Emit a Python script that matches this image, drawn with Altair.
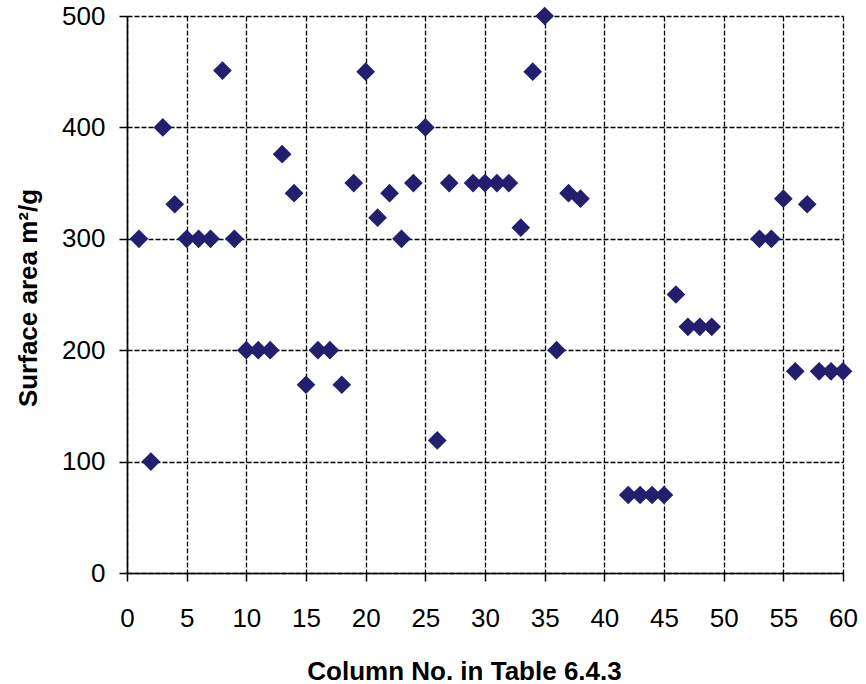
import altair as alt
import pandas as pd

column_no = [1, 2, 3, 4, 5, 6, 7, 8, 9, 10, 11, 12, 13, 14, 15, 16, 17, 18, 19, 20,
             21, 22, 23, 24, 25, 26, 27, 29, 30, 31, 32, 33, 34, 35, 36, 37, 38,
             42, 43, 44, 45, 46, 47, 48, 49, 53, 54, 55, 56, 57, 58, 59, 60]
surface_area = [300, 100, 400, 331, 300, 300, 300, 451, 300, 200, 200, 200, 376, 341, 169, 200, 200, 169, 350, 450,
                319, 341, 300, 350, 400, 119, 350, 350, 350, 350, 350, 310, 450, 500, 200, 341, 336,
                70, 70, 70, 70, 250, 221, 221, 221, 300, 300, 336, 181, 331, 181, 181, 181]

x_ticks = list(range(0, 61, 5))
y_ticks = [0, 100, 200, 300, 400, 500]

df = pd.DataFrame({"col": column_no, "area": surface_area})

FONT = "Arial, Liberation Sans, sans-serif"
W, H = 716, 557

chart = alt.Chart(df).mark_point(
    shape="diamond", filled=True, size=350, color="#231E6E", opacity=1
).encode(
    x=alt.X("col:Q", scale=alt.Scale(domain=[0, 60], nice=False, zero=False),
            axis=alt.Axis(values=x_ticks, title="Column No. in Table 6.4.3",
                          titleX=W / 2 - 21, titleY=98, titleBaseline="middle", titleAlign="center")),
    y=alt.Y("area:Q", scale=alt.Scale(domain=[0, 500], nice=False),
            axis=alt.Axis(values=y_ticks, title="Surface area m²/g",
                          titleX=-99, titleY=H / 2 + 3, titleBaseline="middle", titleAlign="center",
                          titleAngle=-90)),
).properties(
    width=W, height=H,
    autosize=alt.AutoSizeParams(type="none"),
    padding={"left": 127, "top": 16, "right": 23, "bottom": 111},
).configure_view(
    stroke=None
).configure_axis(
    grid=True, gridColor="#000000", gridDash=[5, 2], gridWidth=1.3, gridOpacity=1,
    domainColor="#000000", domainWidth=1.6,
    tickColor="#000000", tickSize=8, tickWidth=1.5,
    labelFont=FONT, labelFontSize=26, labelColor="#000000", labelFlush=False,
    titleFont=FONT, titleFontSize=26, titleFontWeight="bold", titleColor="#000000",
).configure_axisX(
    labelPadding=24,
).configure_axisY(
    labelPadding=14,
)

chart.save("out.html", embed_options={"renderer": "svg", "actions": False})
